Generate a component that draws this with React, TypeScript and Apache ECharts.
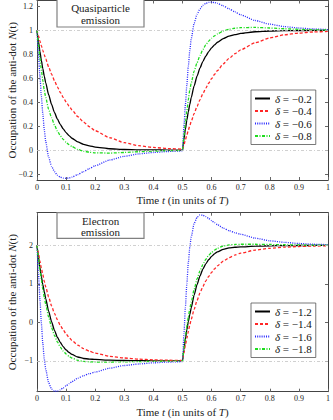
import React, { useEffect, useRef } from 'react';
import * as echarts from 'echarts';

const FONT = 'Liberation Serif';

const times = [0, 0.005, 0.01, 0.015, 0.02, 0.025, 0.03, 0.04, 0.05, 0.06, 0.07, 0.08, 0.09, 0.1, 0.11, 0.12, 0.14, 0.16, 0.18, 0.2, 0.25, 0.3, 0.35, 0.4, 0.45,
  0.5,
  0.505, 0.51, 0.515, 0.52, 0.525, 0.53, 0.54, 0.55, 0.56, 0.57, 0.58, 0.59, 0.6, 0.61, 0.62, 0.64, 0.66, 0.68, 0.7, 0.75, 0.8, 0.85, 0.9, 0.95,
  1];

// Quasiparticle emission (top panel)
const topNames = ['δ = −0.2', 'δ = −0.4', 'δ = −0.6', 'δ = −0.8'];
const topD02 = [1, 0.908, 0.825, 0.749, 0.681, 0.618, 0.562, 0.463, 0.382, 0.315, 0.26, 0.215, 0.177, 0.146, 0.121, 0.099, 0.068, 0.048, 0.035, 0.025, 0.011, 0.005, 0.002, 0.001, 0,
  0,
  0.092, 0.175, 0.251, 0.319, 0.382, 0.438, 0.537, 0.618, 0.685, 0.74, 0.785, 0.823, 0.854, 0.879, 0.901, 0.932, 0.952, 0.965, 0.975, 0.989, 0.995, 0.998, 0.999, 1,
  1];
const topD04 = [1, 0.956, 0.913, 0.873, 0.834, 0.797, 0.761, 0.695, 0.635, 0.58, 0.529, 0.483, 0.441, 0.403, 0.368, 0.336, 0.28, 0.234, 0.195, 0.162, 0.103, 0.062, 0.037, 0.022, 0.013,
  0.008,
  0.044, 0.087, 0.127, 0.166, 0.203, 0.239, 0.305, 0.365, 0.42, 0.471, 0.517, 0.559, 0.597, 0.632, 0.664, 0.72, 0.766, 0.805, 0.838, 0.897, 0.938, 0.963, 0.978, 0.987,
  0.992];
const topD06 = [1, 0.8, 0.62, 0.45, 0.3, 0.17, 0.07, -0.06, -0.135, -0.18, -0.21, -0.226, -0.234, -0.236, -0.233, -0.226, -0.205, -0.18, -0.155, -0.13, -0.083, -0.052, -0.032, -0.02, -0.012,
  -0.007,
  0.2, 0.38, 0.55, 0.7, 0.83, 0.93, 1.06, 1.135, 1.18, 1.21, 1.226, 1.234, 1.236, 1.233, 1.226, 1.205, 1.18, 1.155, 1.13, 1.083, 1.052, 1.032, 1.02, 1.012,
  1.007];
const topD08 = [1, 0.88, 0.77, 0.67, 0.58, 0.5, 0.44, 0.34, 0.27, 0.21, 0.16, 0.12, 0.09, 0.065, 0.045, 0.03, 0.005, -0.01, -0.018, -0.023, -0.025, -0.02, -0.014, -0.009, -0.005,
  -0.003,
  0.12, 0.23, 0.33, 0.42, 0.5, 0.56, 0.66, 0.73, 0.79, 0.84, 0.88, 0.91, 0.935, 0.955, 0.97, 0.995, 1.01, 1.018, 1.023, 1.025, 1.02, 1.014, 1.009, 1.005,
  1.003];

// Electron emission (bottom panel)
const botNames = ['δ = −1.2', 'δ = −1.4', 'δ = −1.6', 'δ = −1.8'];
const botD12 = [2, 1.7, 1.43, 1.19, 0.98, 0.8, 0.62, 0.29, 0.02, -0.205, -0.385, -0.52, -0.631, -0.715, -0.781, -0.832, -0.898, -0.937, -0.952, -0.962, -0.98, -0.99, -0.995, -0.998, -0.999,
  -1,
  -0.7, -0.43, -0.19, 0.02, 0.2, 0.38, 0.71, 0.98, 1.205, 1.385, 1.52, 1.631, 1.715, 1.781, 1.832, 1.898, 1.937, 1.952, 1.962, 1.98, 1.99, 1.995, 1.998, 1.999,
  2];
const botD14 = [2, 1.79, 1.59, 1.41, 1.24, 1.07, 0.92, 0.66, 0.43, 0.235, 0.07, -0.075, -0.195, -0.3, -0.39, -0.47, -0.59, -0.68, -0.75, -0.8, -0.88, -0.925, -0.955, -0.972, -0.983,
  -0.99,
  -0.79, -0.59, -0.41, -0.24, -0.07, 0.08, 0.34, 0.57, 0.765, 0.93, 1.075, 1.195, 1.3, 1.39, 1.47, 1.59, 1.68, 1.75, 1.8, 1.88, 1.925, 1.955, 1.972, 1.983,
  1.99];
const botD16 = [2, 1.3, 0.6, -0.02, -0.55, -0.95, -1.22, -1.57, -1.73, -1.79, -1.785, -1.75, -1.7, -1.645, -1.59, -1.54, -1.45, -1.385, -1.33, -1.29, -1.19, -1.12, -1.08, -1.05, -1.03,
  -1.02,
  -0.3, 0.4, 1.02, 1.55, 1.95, 2.22, 2.57, 2.73, 2.79, 2.785, 2.75, 2.7, 2.645, 2.59, 2.54, 2.45, 2.385, 2.33, 2.29, 2.19, 2.12, 2.08, 2.05, 2.03,
  2.02];
const botD18 = [2, 1.67, 1.37, 1.1, 0.86, 0.65, 0.47, 0.14, -0.13, -0.34, -0.505, -0.64, -0.745, -0.82, -0.88, -0.925, -0.985, -1.012, -1.024, -1.03, -1.03, -1.024, -1.018, -1.012, -1.006,
  -1.003,
  -0.67, -0.37, -0.1, 0.14, 0.35, 0.53, 0.86, 1.13, 1.34, 1.505, 1.64, 1.745, 1.82, 1.88, 1.925, 1.985, 2.012, 2.024, 2.03, 2.03, 2.024, 2.018, 2.012, 2.006,
  2.003];

const topYTicks = [-0.2, 0, 0.2, 0.4, 0.6, 0.8, 1, 1.2];
const botYTicks = [-1, 0, 1, 2];
const topGuides = [0, 1];
const botGuides = [-1, 2];

const lineStyles = [
  { color: '#000000', type: 'solid', width: 1.3 },
  { color: '#ff2626', type: [3, 2], width: 1.3 },
  { color: '#2a2aff', type: [1, 1.2], width: 1.3 },
  { color: '#1edc1e', type: [3, 1.5, 1, 1.5], width: 1.3 },
];

const fmt = (v: number) => String(Math.round(v * 100) / 100).replace('-', '−');

export default function App() {
  const ref = useRef<HTMLDivElement>(null);
  useEffect(() => {
    if (!ref.current) return;
    const chart = echarts.init(ref.current, undefined, { renderer: 'svg' });

    const mk = (name: string, vals: number[], g: number, k: number) => ({
      type: 'line',
      name,
      xAxisIndex: g * 2,
      yAxisIndex: g * 2,
      data: times.map((t, i) => [t, vals[i]]),
      symbol: 'none',
      smooth: 0.2,
      smoothMonotone: 'x',
      lineStyle: { ...lineStyles[k] },
      itemStyle: { color: lineStyles[k].color },
      z: 3,
    });

    const guide = (name: string, g: number, vals: number[]) => ({
      type: 'line',
      name,
      xAxisIndex: g * 2,
      yAxisIndex: g * 2,
      data: [],
      symbol: 'none',
      z: 1,
      markLine: {
        silent: true,
        symbol: 'none',
        label: { show: false },
        lineStyle: { color: '#c4c4c4', type: [3, 2, 1, 2], width: 0.8 },
        data: vals.map((v) => ({ yAxis: v })),
      },
    });

    const nameStyle = {
      fontFamily: FONT, fontSize: 11, lineHeight: 12, color: '#222',
      rich: { i: { fontFamily: FONT, fontSize: 11, lineHeight: 12, fontStyle: 'italic', color: '#222' } },
    };

    const xMain = (g: number) => ({
      gridIndex: g,
      type: 'value',
      position: 'bottom',
      min: 0,
      max: 1,
      interval: 0.1,
      axisLine: { show: true, onZero: false, lineStyle: { color: '#444', width: 1 } },
      axisTick: { show: true, inside: true, length: 3, lineStyle: { color: '#666' } },
      axisLabel: { fontFamily: FONT, fontSize: 8, color: '#222', margin: 3, formatter: fmt },
      splitLine: { show: false },
      name: 'Time {i|t} (in units of {i|T})',
      nameLocation: 'middle',
      nameGap: 14,
      nameMoveOverlap: false,
      nameTextStyle: nameStyle,
    });
    const xTop = (g: number) => ({
      gridIndex: g,
      type: 'value',
      position: 'top',
      min: 0,
      max: 1,
      interval: 0.1,
      axisLine: { show: true, onZero: false, lineStyle: { color: '#444', width: 1 } },
      axisTick: { show: true, inside: true, length: 3, lineStyle: { color: '#666' } },
      axisLabel: { show: false },
      splitLine: { show: false },
    });
    const yMain = (g: number, min: number, max: number, ticks: number[]) => ({
      gridIndex: g,
      type: 'value',
      position: 'left',
      min,
      max,
      axisLine: { show: true, onZero: false, lineStyle: { color: '#444', width: 1 } },
      axisTick: { show: true, inside: true, length: 3, customValues: ticks, lineStyle: { color: '#666' } },
      axisLabel: { fontFamily: FONT, fontSize: 8, color: '#222', margin: 4, customValues: ticks, formatter: fmt },
      splitLine: { show: false },
      name: 'Occupation of the anti-dot {i|N}(t)',
      nameLocation: 'middle',
      nameGap: 19,
      nameMoveOverlap: false,
      nameTextStyle: nameStyle,
    });
    const yRight = (g: number, min: number, max: number, ticks: number[]) => ({
      gridIndex: g,
      type: 'value',
      position: 'right',
      min,
      max,
      axisLine: { show: true, onZero: false, lineStyle: { color: '#444', width: 1 } },
      axisTick: { show: true, inside: true, length: 3, customValues: ticks, lineStyle: { color: '#666' } },
      axisLabel: { show: false },
      splitLine: { show: false },
    });

    const legend = (top: number, data: string[]) => ({
      left: 251,
      top,
      orient: 'vertical',
      data,
      itemWidth: 15,
      itemHeight: 8,
      itemGap: 1.5,
      itemTextGap: 3,
      padding: [3, 4, 3, 3],
      borderColor: '#555',
      borderWidth: 0.8,
      borderRadius: 0,
      backgroundColor: '#ffffff',
      itemStyle: { opacity: 0 },
      textStyle: {
        fontFamily: FONT,
        fontSize: 11,
        lineHeight: 10,
        color: '#111',
        rich: { i: { fontFamily: FONT, fontSize: 11, fontStyle: 'italic', color: '#111' } },
      },
      formatter: (n: string) => '{i|δ}' + n.slice(1),
      selectedMode: false,
      z: 20,
    });

    const titleBox = (y: number, h: number, l1: string, l2: string) => [
      { type: 'rect', shape: { x: 57, y, width: 87, height: h }, style: { fill: '#fff', stroke: '#808080', lineWidth: 1.2 }, z: 100 },
      { type: 'text', x: 100.5, y: y + h * 0.33, style: { text: l1, font: '11px Liberation Serif', fill: '#222', align: 'center', verticalAlign: 'middle' }, z: 101 },
      { type: 'text', x: 100.5, y: y + h * 0.75, style: { text: l2, font: '11px Liberation Serif', fill: '#222', align: 'center', verticalAlign: 'middle' }, z: 101 },
    ];

    chart.setOption({
      animation: false,
      backgroundColor: '#ffffff',
      grid: [
        { left: 37, top: 0.5, width: 291, height: 179.5, containLabel: false, outerBoundsMode: 'none' },
        { left: 37, top: 212.7, width: 291, height: 179, containLabel: false, outerBoundsMode: 'none' },
      ],
      xAxis: [xMain(0), xTop(0), xMain(1), xTop(1)],
      yAxis: [
        yMain(0, -0.25, 1.25, topYTicks),
        yRight(0, -0.25, 1.25, topYTicks),
        yMain(1, -1.8, 2.85, botYTicks),
        yRight(1, -1.8, 2.85, botYTicks),
      ],
      legend: [legend(90, topNames), legend(303, botNames)],
      series: [
        guide('guideTop', 0, topGuides),
        guide('guideBot', 1, botGuides),
        mk(topNames[0], topD02, 0, 0),
        mk(topNames[1], topD04, 0, 1),
        mk(topNames[2], topD06, 0, 2),
        mk(topNames[3], topD08, 0, 3),
        mk(botNames[0], botD12, 1, 0),
        mk(botNames[1], botD14, 1, 1),
        mk(botNames[2], botD16, 1, 2),
        mk(botNames[3], botD18, 1, 3),
      ],
      graphic: [
        ...titleBox(-1, 28, 'Quasiparticle', 'emission'),
        ...titleBox(212.7, 25.6, 'Electron', 'emission'),
      ],
    });
    return () => chart.dispose();
  }, []);
  return <div ref={ref} style={{ position: 'absolute', left: 0, top: 0, width: 333, height: 420 }} />;
}
